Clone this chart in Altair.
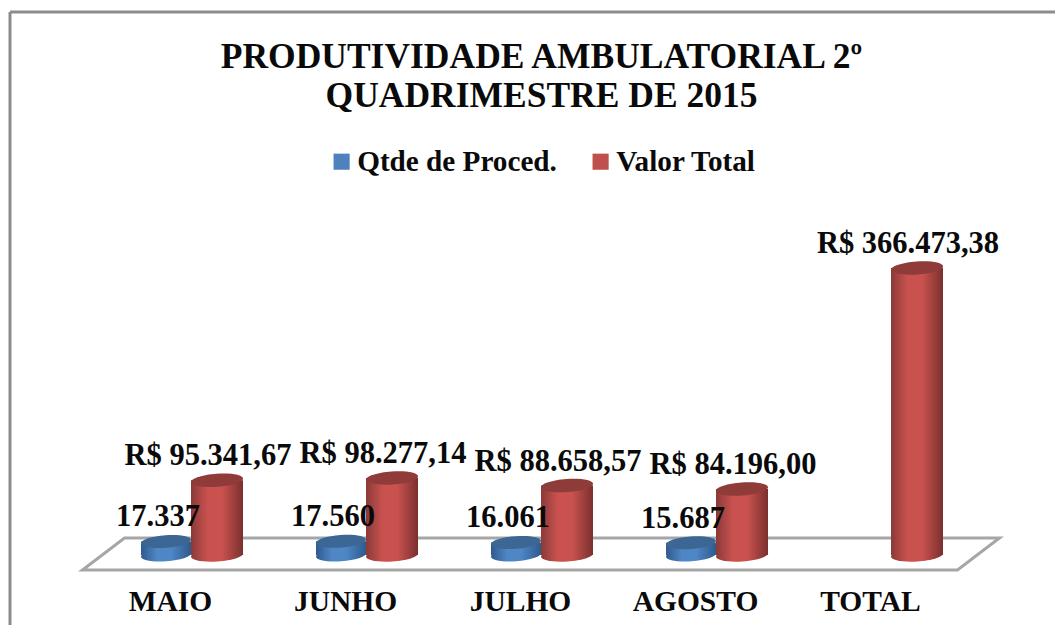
import altair as alt
import pandas as pd

months = ["MAIO", "JUNHO", "JULHO", "AGOSTO", "TOTAL"]
qtde = [17337, 17560, 16061, 15687]
qtde_labels = ["17.337", "17.560", "16.061", "15.687"]
valor = [95341.67, 98277.14, 88658.57, 84196.00, 366473.38]
valor_labels = ["R$ 95.341,67", "R$ 98.277,14", "R$ 88.658,57", "R$ 84.196,00", "R$ 366.473,38"]
series = ["Qtde de Proced.", "Valor Total"]
FONT = "Liberation Serif"
INK = "#0a0a0a"

df_q = pd.DataFrame({"m": months[:4], "v": qtde, "t": qtde_labels})
df_v = pd.DataFrame({"m": months, "v": valor, "t": valor_labels})

H = 450
Y_BASE = 15  # distance from the floor front edge to the cylinder base
x_enc = alt.X("m:N", sort=months, scale=alt.Scale(domain=months, paddingInner=0, paddingOuter=0),
              axis=alt.Axis(title=None, domain=False, ticks=False, grid=False, labelAngle=0,
                            labelFont=FONT, labelFontWeight="bold", labelFontSize=29.5,
                            labelColor=INK, labelPadding=17, labelBaseline="top"))
y_scale = alt.Scale(domain=[0, 366473.38], range=[H - Y_BASE, H - Y_BASE - 287], nice=False, zero=False, clamp=False)
y_enc = alt.Y("v:Q", scale=y_scale, axis=None)
y0_enc = alt.Y("base:Q", scale=y_scale, axis=None)

ELLIPSE = "M -1 0.07 A 1 0.25 -4 1 1 1 -0.07 A 1 0.25 -4 1 1 -1 0.07 Z"


def grad(dark1, mid, dark2):
    return alt.Gradient(gradient="linear", x1=0, x2=1, y1=0, y2=0, stops=[
        alt.GradientStop(offset=0, color=dark1),
        alt.GradientStop(offset=0.32, color=mid),
        alt.GradientStop(offset=0.6, color=mid),
        alt.GradientStop(offset=1, color=dark2)])


def cylinder(df, off, w, side, top):
    d = df.assign(base=0)
    bottom = alt.Chart(d).mark_point(shape=ELLIPSE, filled=True, fill=side, opacity=1, strokeWidth=0,
                                     size=w * w, xOffset=off).encode(x=x_enc, y=y0_enc)
    body = alt.Chart(d).mark_bar(size=w, fill=side, xOffset=off).encode(x=x_enc, y=y_enc, y2=alt.Y2("base:Q"))
    cap = alt.Chart(d).mark_point(shape=ELLIPSE, filled=True, fill=top, opacity=1, strokeWidth=0,
                                  size=w * w, xOffset=off).encode(x=x_enc, y=y_enc)
    return [bottom, body, cap]


def labels(df, off):
    return alt.Chart(df).mark_text(font=FONT, fontWeight="bold", fontSize=30.5, color=INK,
                                   xOffset=off, yOffset=-24).encode(x=x_enc, y=y_enc, text="t:N")


one = pd.DataFrame({"a": [0]})
border_top = alt.Chart(one).mark_rule(color="#8c8c8c", strokeWidth=3).encode(
    x=alt.value(-73), x2=alt.value(980), y=alt.value(-108))
border_left = alt.Chart(one).mark_rule(color="#8c8c8c", strokeWidth=3).encode(
    x=alt.value(-73), y=alt.value(-108), y2=alt.value(H + 63))
floor = alt.Chart(one).mark_point(
    shape="M -1 0.0349 L -0.9084 -0.0349 L 1 -0.0349 L 0.9084 0.0349 Z", filled=False, stroke="#a6a6a6",
    strokeWidth=3, opacity=1, size=917 * 917).encode(x=alt.value(458), y=alt.value(H - 16))

legend_layer = alt.Chart(pd.DataFrame({"s": series, "m": months[:2], "v": [0, 0]})).mark_point(
    shape="square", filled=True, opacity=0, size=1).encode(
    x=x_enc, y=y_enc,
    color=alt.Color("s:N", scale=alt.Scale(domain=series, range=["#4f81bd", "#c0504d"]),
                    legend=alt.Legend(title=None, orient="none", direction="horizontal", legendX=244, legendY=27,
                                      symbolType="square", symbolSize=260, symbolOpacity=1, symbolStrokeWidth=0,
                                      labelFont=FONT, labelFontWeight="bold", labelFontSize=29.2,
                                      labelColor=INK, columnPadding=29, labelOffset=1, labelLimit=300)))

blue = cylinder(df_q, -4.5, 50, grad("#2f5a8c", "#4f86c6", "#2f5a8c"), "#3c6795")
red = cylinder(df_v, 46.5, 52, grad("#8a3a38", "#c9524f", "#7a302e"), "#8f3b3a")

chart = alt.layer(border_top, border_left, floor, legend_layer, *blue, *red,
                  labels(df_q, -12.5), labels(df_v, 37.5)).properties(
    width=875, height=H,
    padding={"left": 75, "top": 112, "right": 97, "bottom": 55},
    autosize=alt.AutoSizeParams(type="none"),
    background="white",
    title=alt.TitleParams(text=["PRODUTIVIDADE AMBULATORIAL 2º", "QUADRIMESTRE DE 2015"], font=FONT,
                          fontWeight="bold", fontSize=35.5, lineHeight=39.5, color=INK,
                          anchor="middle", dx=21, offset=-104, frame="group"),
).configure_view(stroke=None)

chart.save("out.html", embed_options={"renderer": "svg", "actions": False})
